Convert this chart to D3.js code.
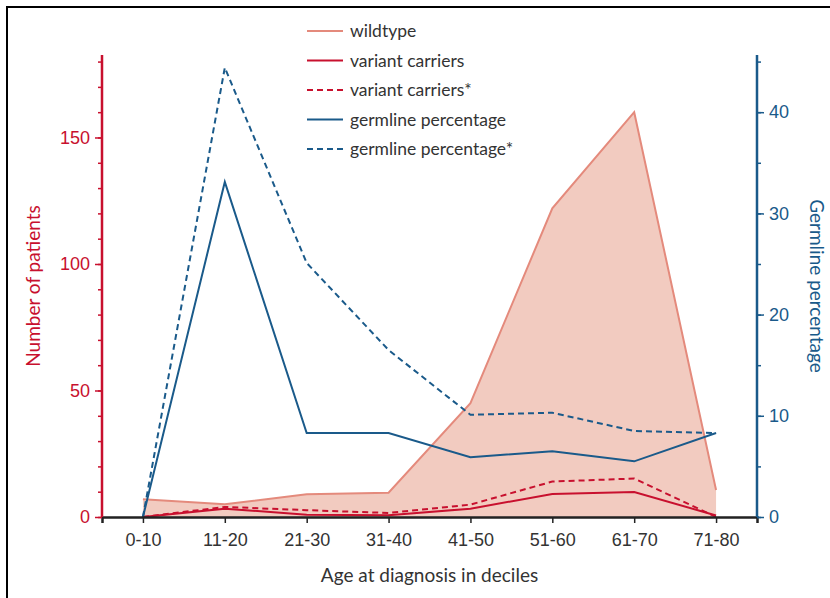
<!DOCTYPE html>
<html>
<head>
<meta charset="utf-8">
<script src="https://cdn.jsdelivr.net/npm/d3@7"></script>
<style>
  body { margin: 0; background: #fff; }
  svg { font-family: Lato, "Open Sans", sans-serif; }
</style>
</head>
<body>
<svg id="chart" width="830" height="598"></svg>
<script>
const categories = ["0-10", "11-20", "21-30", "31-40", "41-50", "51-60", "61-70", "71-80"];
const wildtype = [7, 5, 9, 9.6, 45, 122, 160, 10.7];
const variantCarriers = [0, 3.3, 0.9, 0.7, 3.3, 9.1, 9.9, 0.6];
const variantCarriersStar = [0, 4, 2.7, 1.6, 4.9, 14, 15.2, 0];
const germline = [0, 33.1, 8.3, 8.3, 5.9, 6.5, 5.5, 8.3];
const germlineStar = [0, 44.4, 25.1, 16.5, 10.1, 10.3, 8.5, 8.3];
const leftTicks = [0, 50, 100, 150];
const rightTicks = [0, 10, 20, 30, 40];

const red = "#c8102e";
const blue = "#1a5a8a";
const salmon = "#e48a7c";
const salmonFill = "#f2cbc0";

const svg = d3.select("#chart");
const plotLeft = 102, plotRight = 757, plotTop = 55, plotBottom = 517;

// frame
svg.append("rect")
  .attr("x", 7).attr("y", 7).attr("width", 900).attr("height", 900)
  .attr("fill", "none").attr("stroke", "#000").attr("stroke-width", 2);

const x = d3.scalePoint().domain(categories).range([plotLeft, plotRight]).padding(0.5);
const yL = d3.scaleLinear().domain([0, 182.6]).range([plotBottom, plotTop]);
const yR = d3.scaleLinear().domain([0, 45.65]).range([plotBottom, plotTop]);

const area = d3.area()
  .x((d, i) => x(categories[i]))
  .y0(plotBottom)
  .y1(d => yL(d));
svg.append("path").datum(wildtype).attr("d", area).attr("fill", salmonFill);

const lineL = d3.line().x((d, i) => x(categories[i])).y(d => yL(d));
const lineR = d3.line().x((d, i) => x(categories[i])).y(d => yR(d));

svg.append("path").datum(wildtype).attr("d", lineL)
  .attr("fill", "none").attr("stroke", salmon).attr("stroke-width", 2);
svg.append("path").datum(variantCarriersStar).attr("d", lineL)
  .attr("fill", "none").attr("stroke", red).attr("stroke-width", 2).attr("stroke-dasharray", "6,4");
svg.append("path").datum(variantCarriers).attr("d", lineL)
  .attr("fill", "none").attr("stroke", red).attr("stroke-width", 2);
svg.append("path").datum(germlineStar).attr("d", lineR)
  .attr("fill", "none").attr("stroke", blue).attr("stroke-width", 2).attr("stroke-dasharray", "6,4");
svg.append("path").datum(germline).attr("d", lineR)
  .attr("fill", "none").attr("stroke", blue).attr("stroke-width", 2);

// x axis
const gx = svg.append("g").attr("transform", `translate(0,${plotBottom})`)
  .call(d3.axisBottom(x).tickSize(6).tickPadding(10));
gx.select(".domain").attr("stroke", "#222").attr("stroke-width", 2.5);
gx.selectAll(".tick line").attr("stroke", "#222").attr("stroke-width", 1.5);
gx.selectAll("text").attr("fill", "#333").attr("font-size", 18);

svg.append("text").attr("x", (plotLeft + plotRight) / 2).attr("y", 582)
  .attr("text-anchor", "middle").attr("fill", "#333").attr("font-size", 19)
  .text("Age at diagnosis in deciles");

// left axis
const gl = svg.append("g").attr("transform", `translate(${plotLeft},0)`);
gl.call(d3.axisLeft(yL).tickValues(d3.range(0, 181, 10)).tickSize(4).tickFormat(""));
gl.call(g => g.selectAll(".tick line").attr("stroke", red).attr("stroke-width", 1.5));
const glMajor = svg.append("g").attr("transform", `translate(${plotLeft},0)`)
  .call(d3.axisLeft(yL).tickValues(leftTicks).tickSize(7).tickPadding(5).tickSizeOuter(0));
glMajor.select(".domain").remove();
glMajor.selectAll(".tick line").attr("stroke", red).attr("stroke-width", 1.5);
glMajor.selectAll("text").attr("fill", red).attr("font-size", 18);
gl.select(".domain").attr("stroke", red).attr("stroke-width", 2.5).attr("d", `M0,${plotTop}V${plotBottom}`);

svg.append("text")
  .attr("transform", "translate(40,286) rotate(-90)")
  .attr("text-anchor", "middle").attr("fill", red).attr("font-size", 19)
  .text("Number of patients");

// right axis
const gr = svg.append("g").attr("transform", `translate(${plotRight},0)`);
gr.call(d3.axisRight(yR).tickValues(d3.range(0, 46, 5)).tickSize(4).tickFormat(""));
gr.call(g => g.selectAll(".tick line").attr("stroke", blue).attr("stroke-width", 1.5));
const grMajor = svg.append("g").attr("transform", `translate(${plotRight},0)`)
  .call(d3.axisRight(yR).tickValues(rightTicks).tickSize(7).tickPadding(5));
grMajor.select(".domain").remove();
grMajor.selectAll(".tick line").attr("stroke", blue).attr("stroke-width", 1.5);
grMajor.selectAll("text").attr("fill", blue).attr("font-size", 18);
gr.select(".domain").attr("stroke", blue).attr("stroke-width", 2.5).attr("d", `M0,${plotTop}V${plotBottom}`);

svg.append("text")
  .attr("transform", "translate(810,286) rotate(90)")
  .attr("text-anchor", "middle").attr("fill", blue).attr("font-size", 19)
  .text("Germline percentage");

// legend
const legendItems = [
  { label: "wildtype", color: salmon, dash: null },
  { label: "variant carriers", color: red, dash: null },
  { label: "variant carriers*", color: red, dash: "6,4" },
  { label: "germline percentage", color: blue, dash: null },
  { label: "germline percentage*", color: blue, dash: "6,4" }
];
const lg = svg.append("g").attr("transform", "translate(307,31)");
legendItems.forEach((d, i) => {
  const row = lg.append("g").attr("transform", `translate(0,${i * 29.5})`);
  row.append("line").attr("x1", 0).attr("x2", 36).attr("y1", 0).attr("y2", 0)
    .attr("stroke", d.color).attr("stroke-width", 2)
    .attr("stroke-dasharray", d.dash);
  row.append("text").attr("x", 43).attr("y", 6)
    .attr("fill", "#333").attr("font-size", 17.5).text(d.label);
});
</script>
</body>
</html>
